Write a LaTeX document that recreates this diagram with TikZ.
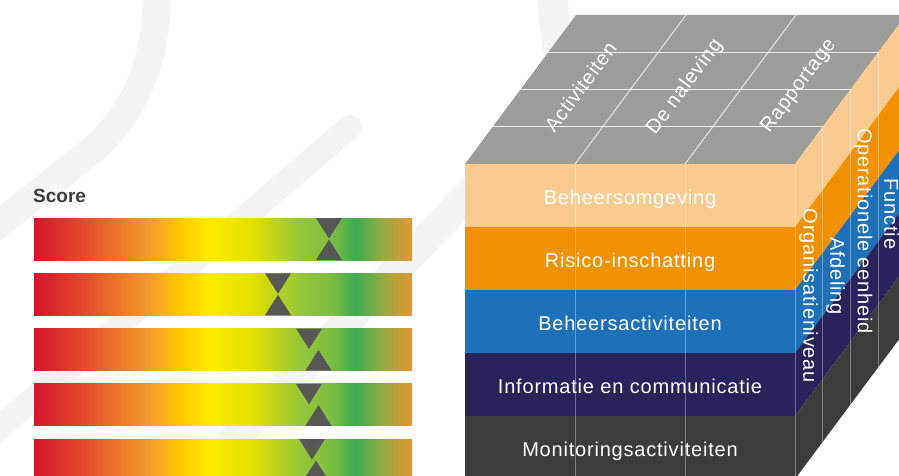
\documentclass[tikz,border=0pt]{standalone}
\usepackage{fontspec}
\setmainfont{Liberation Sans}
\newfontfamily\cubefont[LetterSpace=4]{Liberation Sans}
\usepackage{tikz}
\usepackage{xcolor}
\usetikzlibrary{calc}
\definecolor{cbhaze}{HTML}{F4F4F4}
\definecolor{cbtop}{HTML}{9D9D9C}
\definecolor{cbpeach}{HTML}{F9CB8F}
\definecolor{cborange}{HTML}{F29100}
\definecolor{cbblue}{HTML}{1D71B8}
\definecolor{cbnavy}{HTML}{29235C}
\definecolor{cbcoal}{HTML}{3C3C3B}
\definecolor{cbmark}{HTML}{575756}
\definecolor{cbink}{HTML}{3C3C3B}
\definecolor{gA}{HTML}{D7142A}
\definecolor{gB}{HTML}{E3502A}
\definecolor{gC}{HTML}{F29A2E}
\definecolor{gD}{HTML}{FFC800}
\definecolor{gE}{HTML}{FFEB00}
\definecolor{gF}{HTML}{E0E000}
\definecolor{gG}{HTML}{96C63A}
\definecolor{gH}{HTML}{7DBD40}
\definecolor{gI}{HTML}{3DAB4F}
\definecolor{gJ}{HTML}{9AAA42}
\definecolor{gK}{HTML}{E8962E}
\pgfdeclarehorizontalshading{scoreGrad}{100bp}{color(0bp)=(gA); color(25bp)=(gA);
  color(32bp)=(gB); color(40bp)=(gC); color(44.3bp)=(gD); color(48.3bp)=(gE);
  color(54bp)=(gF); color(60.2bp)=(gG); color(64.2bp)=(gH); color(67.5bp)=(gI);
  color(71.2bp)=(gJ); color(75bp)=(gK); color(100bp)=(gK)}
\tikzset{
  bgStroke/.style={draw=cbhaze, line width=#1, line cap=round},
  bgStroke/.default=26,
  gridLine/.style={draw=white!80!cbtop, line width=0.9pt},
  faceLine/.style={draw=white, draw opacity=0.35, line width=1pt},
  markerTri/.style={fill=cbmark},
  bandLabel/.style={text=white, anchor=base, inner sep=0pt, font=\cubefont\fontsize{20}{24}\selectfont},
  topLabel/.style={bandLabel, anchor=center, rotate=53.3},
  sideLabel/.style={bandLabel, anchor=center, rotate=-90},
  scoreLabel/.style={text=cbink, anchor=base west, inner sep=0pt, font=\bfseries\fontsize{19}{23}\selectfont}
}

\begin{document}
\begin{tikzpicture}[x=1pt,y=-1pt]
  \useasboundingbox (0,0) rectangle (899,476);
  \clip (0,0) rectangle (899,476);
  % faint background swooshes
  \draw[bgStroke=28] (157,-10) .. controls (157,70) and (130,115) .. (95,148) -- (-40,255);
  \draw[bgStroke=24] (350,127) -- (-10,436);
  \draw[bgStroke=30] (540,120) -- (190,486);
  \draw[bgStroke=30] (553,-10) .. controls (553,60) and (570,100) .. (600,130);

  % score bars with markers
  \node[scoreLabel] (score) at (33,202) {Score};
  \foreach \i/\dn/\up in {0/329/329, 1/278/278, 2/309/318.5, 3/309/318.5, 4/312/316}
  {
    \pgfmathsetmacro\btop{218+55.25*\i}
    \shade[shading=scoreGrad] (34,\btop) rectangle (412,\btop+42);
    \fill[markerTri] (\dn-13,\btop) -- (\dn+13,\btop) -- (\dn,\btop+20.5) -- cycle;
    \fill[markerTri] (\up-13,\btop+42) -- (\up+13,\btop+42) -- (\up,\btop+21.5) -- cycle;
  }

  % cube: top face, front and side bands
  \fill[cbtop] (465,164) -- (576,15) -- (906,15) -- (795,164) -- cycle;
  \foreach \i/\col/\txt in {0/cbpeach/Beheersomgeving, 1/cborange/Risico-inschatting,
    2/cbblue/Beheersactiviteiten, 3/cbnavy/Informatie en communicatie, 4/cbcoal/Monitoringsactiviteiten}
  {
    \pgfmathsetmacro\ytop{164+63*\i}
    \fill[\col] (465,\ytop) rectangle (795,\ytop+63);
    \fill[\col] (795,\ytop) -- ++(111,-149) -- ++(0,63) -- (795,\ytop+63) -- cycle;
    \node[bandLabel] (band\i) at (630,\ytop+40.5) {\txt};
  }
  \foreach \k in {1,2,3}
  {
    \draw[gridLine] (465+27.75*\k,164-37.25*\k) -- ++(330,0);
    \draw[faceLine] (795+27.75*\k,164-37.25*\k) -- ++(0,315);
  }
  \foreach \x in {575,685}
  {
    \draw[faceLine] (\x,164) -- (\x,479);
    \draw[gridLine] (\x,164) -- ++(111,-149);
  }
  \draw[faceLine] (795,164) -- (795,479);

  \node[topLabel] (colact) at (580.5,87) {Activiteiten};
  \node[topLabel] (colnal) at (685,87) {De naleving};
  \node[topLabel] (colrap) at (799,86) {Rapportage};

  \node[sideLabel] (lvlorg) at (808.5,296) {Organisatieniveau};
  \node[sideLabel] (lvlafd) at (835.5,276) {Afdeling};
  \node[sideLabel] (lvlope) at (863,231) {Operationele eenheid};
  \node[sideLabel] (lvlfun) at (891.5,214) {Functie};
\end{tikzpicture}
\end{document}
